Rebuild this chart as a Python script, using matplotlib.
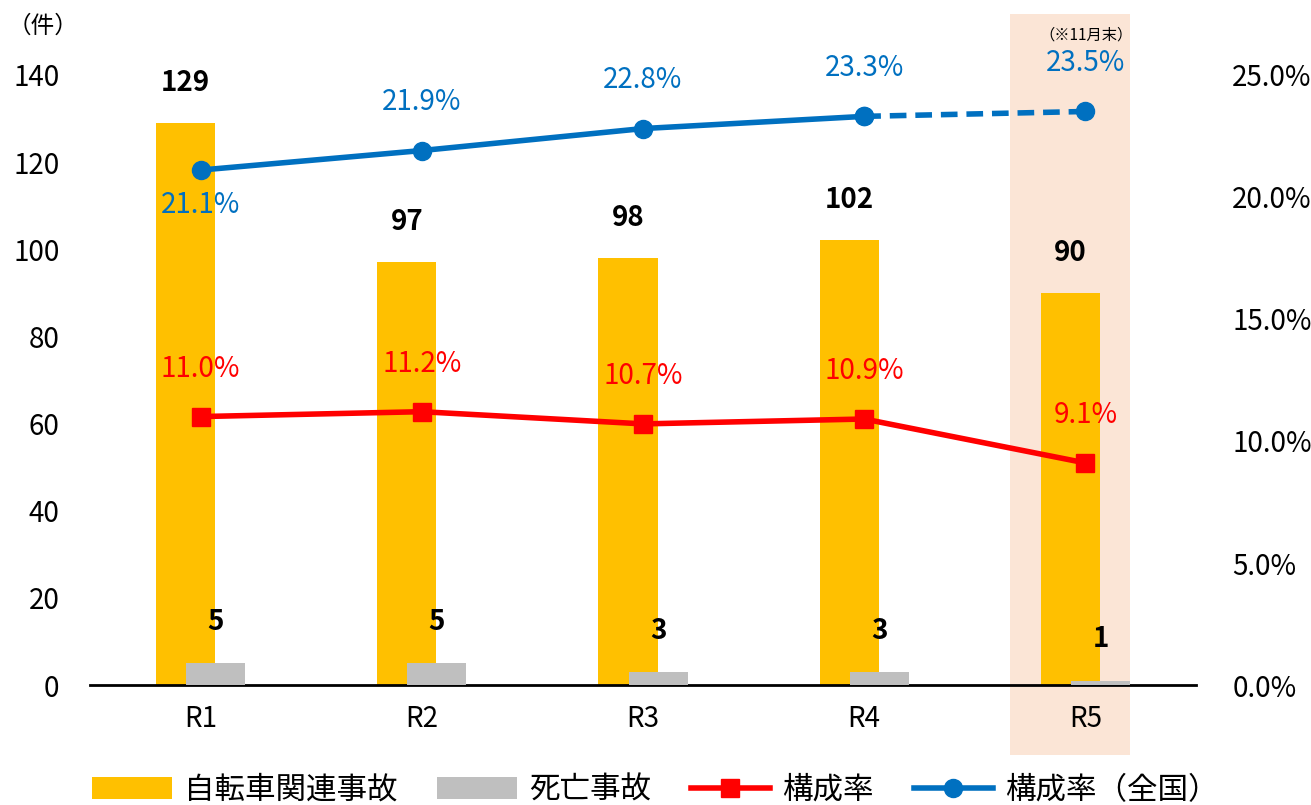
import matplotlib
matplotlib.use("Agg")
import matplotlib.pyplot as plt
from matplotlib.patches import Rectangle
from matplotlib.transforms import blended_transform_factory

plt.rcParams['font.family'] = ['Noto Sans CJK JP', 'DejaVu Sans']

years = ['R1', 'R2', 'R3', 'R4', 'R5']
bike_accidents = [129, 97, 98, 102, 90]
fatal_accidents = [5, 5, 3, 3, 1]
share_local = [11.0, 11.2, 10.7, 10.9, 9.1]
share_national = [21.1, 21.9, 22.8, 23.3, 23.5]

yellow = '#FFC000'
gray = '#BFBFBF'
red = '#FF0000'
blue = '#0070C0'

fig = plt.figure(figsize=(13.11, 8.05), dpi=100)
ax = fig.add_axes([0.0687, 0.149, 0.8436, 0.758])
ax2 = ax.twinx()

x = list(range(len(years)))
w = 0.267
off = 0.068

# shaded column for the current year
trans = blended_transform_factory(ax.transData, ax.transAxes)
ax.add_patch(Rectangle((3.66, -0.115), 0.54, 1.215, transform=trans,
                       facecolor='#FBE5D6', edgecolor='none', clip_on=False, zorder=0))

b1 = ax.bar([i - off for i in x], bike_accidents, w, color=yellow, zorder=2, label='自転車関連事故')
b2 = ax.bar([i + off for i in x], fatal_accidents, w, color=gray, zorder=3, label='死亡事故')

for i, v in enumerate(bike_accidents):
    ax.text(i - off, v + 9.2, str(v), ha='center', va='center', fontsize=20, fontweight='bold')
for i, v in enumerate(fatal_accidents):
    ax.text(i + off, v + 9.5, str(v), ha='center', va='center', fontsize=20, fontweight='bold')

ax.set_xlim(-0.5, 4.5)
ax.set_ylim(0, 140)
ax.set_yticks(range(0, 141, 20))
ax.set_xticks(x)
ax.set_xticklabels(years)
ax.tick_params(axis='y', length=0, pad=22, labelsize=20)
ax.tick_params(axis='x', length=0, pad=14, labelsize=20)
for s in ['top', 'left', 'right']:
    ax.spines[s].set_visible(False)
ax.spines['bottom'].set_linewidth(2)

# composition ratio lines on the right axis
l1, = ax2.plot(x, share_local, color=red, lw=4, marker='s', ms=13, zorder=4, label='構成率')
l2, = ax2.plot(x[:4], share_national[:4], color=blue, lw=4, marker='o', ms=13, zorder=4, label='構成率（全国）')
ax2.plot(x[3:], share_national[3:], color=blue, lw=4, ls=(0, (3, 1.6)), marker='o', ms=13, zorder=4)

for i, v in enumerate(share_local):
    ax2.text(i, v + 1.95, f'{v:.1f}%', ha='center', va='center', fontsize=20, color=red)
for i, v in enumerate(share_national):
    dy = -1.45 if i == 0 else 1.97
    ax2.text(i, v + dy, f'{v:.1f}%', ha='center', va='center', fontsize=20, color=blue)

ax2.set_ylim(0, 25)
ax2.set_yticks([0, 5, 10, 15, 20, 25])
ax2.set_yticklabels([f'{t:.1f}%' for t in [0, 5, 10, 15, 20, 25]])
ax2.tick_params(axis='y', length=0, pad=26, labelsize=20)
for s in ['top', 'left', 'right', 'bottom']:
    ax2.spines[s].set_visible(False)

fig.text(0.006, 0.967, '（件）', fontsize=17, va='center', ha='left')
fig.text(0.828, 0.957, '（※11月末）', fontsize=11, va='center', ha='center')

fig.legend(handles=[b1, b2, l1, l2], loc='lower center', bbox_to_anchor=(0.5, -0.035),
           ncol=4, frameon=False, fontsize=22, handlelength=2.6, handleheight=0.7,
           columnspacing=1.3, handletextpad=0.4)

fig.savefig('out.png', dpi=100)
